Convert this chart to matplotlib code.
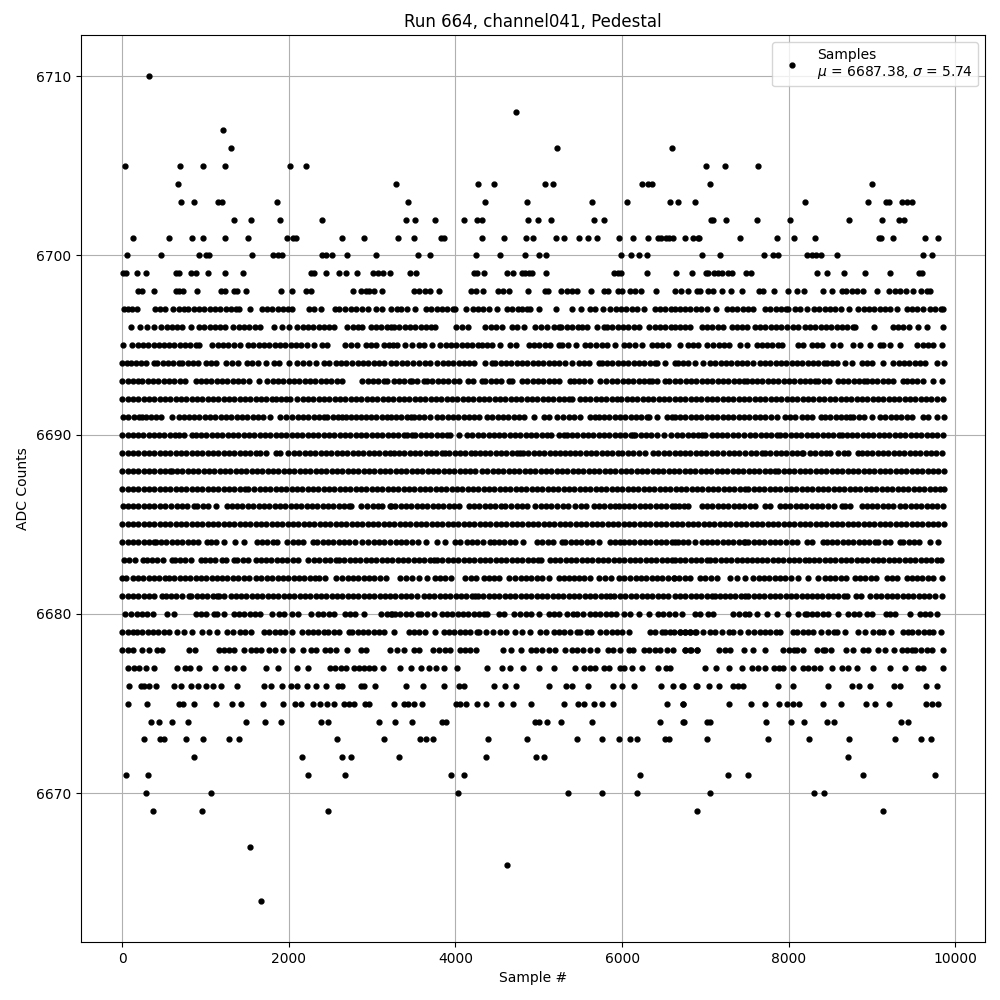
import matplotlib
matplotlib.use("Agg")
import matplotlib.pyplot as plt

s6710 = [322]
s6708 = [4723]
s6707 = [1210]
s6706 = [1306, 5215, 6595]
s6705 = [34, 694, 970, 1234, 2014, 2206, 7013, 7241, 7637]
s6704 = [670, 3286, 4267, 4459, 5071, 5167, 6235, 6307, 6359, 7061, 9005]
s6703 = [706, 862, 1150, 1198, 1858, 3427, 4351, 4855, 5635, 6055, 6571, 6667, 6871, 8201, 8957, 9169, 9201, 9365, 9417, 9477]
s6702 = [1342, 1546, 1894, 2398, 3403, 3511, 3751, 4099, 4255, 4319, 4867, 4987, 5143, 5659, 5779, 7073, 7097, 7253, 7625, 8021, 8729, 9125, 9329, 9389]
s6701 = [130, 562, 838, 970, 1234, 1510, 1978, 2054, 2086, 2638, 2902, 3310, 3499, 3823, 3863, 4315, 4579, 4843, 4927, 5203, 5299, 5479, 5587, 5695, 5959, 6127, 6307, 6427, 6467, 6523, 6563, 6607, 6751, 6847, 6907, 6929, 7421, 7865, 8069, 8321, 9089, 9113, 9257, 9641, 9797]
s6700 = [58, 466, 922, 1006, 1046, 1558, 1810, 1870, 1918, 2398, 2450, 2518, 2698, 3046, 3547, 3691, 4243, 4531, 4831, 4999, 5083, 5983, 6103, 6199, 6295, 6965, 7181, 7709, 7817, 7877, 8225, 8285, 8333, 8393, 8585, 9617, 9725]
s6699 = [10, 46, 178, 286, 646, 682, 826, 886, 1030, 1234, 1450, 2266, 2302, 2446, 2602, 2690, 2818, 3010, 3070, 3134, 3214, 3451, 3523, 4223, 4255, 4339, 4615, 4687, 4795, 4831, 4879, 4915, 5083, 5899, 5947, 5987, 6295, 6643, 6835, 7013, 7037, 7109, 7157, 7205, 7277, 7325, 7493, 7553, 8345, 8465, 8669, 8921, 9221, 9569, 9605]
s6698 = [190, 242, 382, 646, 682, 730, 898, 1186, 1234, 1342, 1378, 1486, 1906, 2038, 2206, 2266, 2770, 2866, 2926, 2962, 3022, 3118, 3499, 3559, 3631, 3691, 3799, 4183, 4243, 4327, 4507, 4567, 4639, 4867, 5071, 5107, 5263, 5335, 5395, 5455, 5623, 5779, 5827, 5947, 5995, 6091, 6151, 6223, 6403, 6631, 6703, 6797, 6895, 6937, 7037, 7097, 7197, 7313, 7445, 7649, 7697, 7829, 7997, 8105, 8189, 8417, 8525, 8645, 8693, 8765, 8825, 8897, 9065, 9209, 9277, 9341, 9413, 9497, 9593, 9665, 9701]
s6697 = [22, 70, 118, 182, 390, 454, 518, 614, 682, 742, 790, 862, 922, 986, 1050, 1114, 1178, 1242, 1306, 1370, 1402, 1534, 1674, 1738, 1802, 1866, 1930, 1994, 2042, 2242, 2306, 2382, 2554, 2602, 2674, 2750, 2810, 2882, 2946, 3042, 3122, 3222, 3300, 3352, 3424, 3512, 3648, 3712, 3776, 3840, 3904, 3968, 4000, 4124, 4208, 4272, 4336, 4400, 4496, 4620, 4684, 4748, 4800, 4860, 4900, 5004, 5204, 5396, 5504, 5612, 5680, 5768, 5860, 5924, 5988, 6052, 6116, 6180, 6260, 6392, 6456, 6520, 6584, 6640, 6700, 6750, 6817, 6889, 6953, 7017, 7133, 7257, 7321, 7385, 7449, 7513, 7577, 7717, 7781, 7845, 7909, 7973, 7997, 8077, 8141, 8225, 8305, 8369, 8433, 8497, 8561, 8625, 8725, 8837, 8901, 8965, 9029, 9093, 9157, 9221, 9297, 9417, 9481, 9545, 9617, 9697, 9761, 9825, 9855]
s6696 = [106, 214, 302, 382, 462, 542, 602, 662, 722, 822, 922, 986, 1050, 1114, 1178, 1230, 1334, 1398, 1462, 1526, 1590, 1654, 1822, 1922, 2006, 2102, 2166, 2230, 2294, 2358, 2422, 2486, 2542, 2702, 2766, 2830, 2882, 2982, 3046, 3110, 3174, 3222, 3260, 3320, 3400, 3460, 3520, 3584, 3648, 3712, 3760, 4008, 4080, 4152, 4360, 4424, 4488, 4560, 4680, 4740, 4820, 4960, 5024, 5100, 5180, 5240, 5272, 5340, 5400, 5472, 5520, 5580, 5700, 5780, 5820, 5884, 5948, 6012, 6076, 6140, 6200, 6320, 6392, 6456, 6520, 6584, 6640, 6700, 6760, 6817, 6957, 7021, 7085, 7149, 7213, 7317, 7377, 7441, 7505, 7597, 7657, 7721, 7785, 7849, 7913, 7977, 8049, 8113, 8197, 8257, 8321, 8385, 8449, 8513, 8577, 8641, 8705, 8769, 8797, 9029, 9249, 9317, 9377, 9449, 9557, 9657, 9849]
s6695 = [10, 122, 186, 250, 314, 378, 442, 502, 562, 626, 690, 754, 818, 882, 922, 1082, 1146, 1210, 1274, 1342, 1410, 1510, 1574, 1638, 1702, 1766, 1830, 1894, 1958, 2022, 2086, 2150, 2214, 2302, 2402, 2462, 2674, 2742, 2814, 2922, 2986, 3050, 3142, 3202, 3250, 3300, 3392, 3480, 3560, 3624, 3720, 3820, 3884, 3948, 4012, 4076, 4140, 4204, 4268, 4320, 4380, 4444, 4540, 4652, 4732, 4880, 4944, 5008, 5072, 5136, 5240, 5280, 5352, 5452, 5552, 5620, 5684, 5760, 5820, 5920, 6020, 6084, 6160, 6240, 6360, 6424, 6480, 6552, 6697, 6797, 6849, 6917, 7017, 7097, 7161, 7225, 7289, 7417, 7497, 7625, 7677, 7741, 7805, 7877, 7917, 8117, 8177, 8277, 8341, 8405, 8537, 8617, 8777, 8857, 8977, 9097, 9137, 9217, 9337, 9545, 9609, 9673, 9737, 9845]
s6694 = [2, 62, 102, 162, 226, 290, 382, 422, 486, 550, 614, 682, 722, 786, 850, 914, 1002, 1062, 1126, 1242, 1322, 1386, 1502, 1562, 1626, 1722, 1822, 1886, 2002, 2102, 2170, 2242, 2322, 2422, 2482, 2562, 2622, 2690, 2762, 2826, 2890, 2954, 3018, 3082, 3146, 3222, 3290, 3354, 3418, 3490, 3568, 3632, 3696, 3780, 3848, 3912, 3976, 4040, 4104, 4160, 4228, 4360, 4440, 4480, 4544, 4608, 4672, 4736, 4800, 4864, 4928, 4992, 5056, 5120, 5184, 5248, 5312, 5400, 5480, 5540, 5600, 5720, 5760, 5820, 5884, 5948, 6012, 6076, 6140, 6204, 6268, 6332, 6396, 6420, 6520, 6640, 6677, 6729, 6797, 6877, 6977, 7057, 7121, 7185, 7249, 7313, 7377, 7441, 7505, 7569, 7657, 7717, 7781, 7845, 7909, 7973, 8037, 8101, 8165, 8229, 8293, 8357, 8421, 8457, 8517, 8581, 8677, 8757, 8877, 8937, 9001, 9137, 9257, 9321, 9385, 9449, 9513, 9577, 9641, 9777, 9860]
s6693 = [2, 66, 130, 190, 242, 306, 370, 434, 498, 562, 626, 690, 754, 882, 942, 1006, 1070, 1134, 1198, 1262, 1326, 1390, 1454, 1522, 1642, 1742, 1806, 1870, 1934, 1998, 2062, 2126, 2190, 2254, 2318, 2382, 2446, 2510, 2582, 2642, 2882, 2946, 3010, 3074, 3138, 3182, 3260, 3324, 3388, 3460, 3480, 3544, 3620, 3660, 3724, 3788, 3852, 3916, 3980, 4040, 4148, 4208, 4320, 4360, 4424, 4488, 4552, 4640, 4680, 4800, 4864, 4928, 4990, 5052, 5120, 5184, 5248, 5380, 5420, 5484, 5548, 5612, 5740, 5812, 5880, 5944, 6008, 6072, 6136, 6200, 6264, 6320, 6360, 6424, 6520, 6560, 6640, 6700, 6764, 6828, 6892, 6956, 7020, 7084, 7148, 7212, 7276, 7340, 7404, 7468, 7500, 7557, 7621, 7685, 7749, 7813, 7877, 7941, 8005, 8069, 8133, 8197, 8261, 8320, 8357, 8421, 8485, 8597, 8649, 8717, 8781, 8845, 8900, 8937, 9001, 9065, 9129, 9193, 9257, 9377, 9417, 9481, 9545, 9609, 9737, 9837]
s6692 = [2, 66, 130, 194, 258, 322, 386, 450, 514, 578, 642, 706, 770, 834, 898, 962, 1026, 1090, 1154, 1218, 1282, 1346, 1410, 1474, 1538, 1602, 1666, 1730, 1794, 1850, 1902, 1966, 2020, 2102, 2166, 2230, 2294, 2358, 2422, 2486, 2550, 2614, 2678, 2742, 2806, 2870, 2934, 2998, 3062, 3126, 3190, 3254, 3318, 3382, 3446, 3510, 3574, 3638, 3702, 3766, 3830, 3894, 3958, 4022, 4086, 4150, 4214, 4278, 4342, 4406, 4470, 4534, 4598, 4662, 4726, 4790, 4854, 4918, 4982, 5046, 5110, 5174, 5238, 5302, 5366, 5396, 5490, 5554, 5618, 5682, 5746, 5810, 5874, 5938, 5990, 6054, 6118, 6182, 6246, 6310, 6374, 6438, 6502, 6566, 6630, 6694, 6758, 6822, 6886, 6950, 7014, 7078, 7142, 7206, 7270, 7334, 7398, 7462, 7526, 7590, 7654, 7718, 7782, 7846, 7910, 7974, 8038, 8102, 8166, 8230, 8294, 8358, 8422, 8490, 8560, 8624, 8688, 8752, 8816, 8880, 8944, 9008, 9072, 9136, 9200, 9264, 9328, 9392, 9456, 9520, 9584, 9648, 9712, 9776, 9850]
s6691 = [10, 74, 138, 202, 242, 282, 346, 410, 462, 602, 682, 742, 802, 862, 926, 990, 1054, 1118, 1182, 1246, 1310, 1374, 1438, 1502, 1566, 1630, 1690, 1774, 1890, 1962, 2042, 2106, 2170, 2234, 2298, 2362, 2422, 2462, 2526, 2590, 2640, 2682, 2746, 2810, 2870, 2922, 2986, 3050, 3114, 3178, 3222, 3286, 3350, 3414, 3470, 3500, 3564, 3628, 3690, 3780, 3844, 3908, 3972, 4036, 4100, 4164, 4228, 4280, 4380, 4444, 4508, 4572, 4636, 4700, 4764, 4828, 4948, 5060, 5124, 5220, 5288, 5360, 5424, 5500, 5620, 5680, 5720, 5784, 5848, 5912, 5976, 6040, 6104, 6168, 6232, 6296, 6320, 6420, 6540, 6600, 6640, 6697, 6761, 6825, 6889, 6953, 7017, 7081, 7145, 7209, 7273, 7337, 7401, 7465, 7529, 7593, 7657, 7721, 7785, 7857, 7957, 8021, 8077, 8157, 8221, 8285, 8385, 8437, 8501, 8565, 8629, 8693, 8737, 8777, 8841, 8905, 8997, 9097, 9161, 9225, 9289, 9353, 9417, 9481, 9617, 9677, 9777, 9860]
s6690 = [2, 66, 130, 194, 250, 322, 382, 442, 506, 570, 634, 682, 742, 842, 882, 946, 1010, 1074, 1138, 1202, 1266, 1330, 1394, 1458, 1522, 1586, 1650, 1714, 1778, 1842, 1906, 1970, 2034, 2098, 2162, 2226, 2290, 2354, 2418, 2482, 2546, 2610, 2674, 2738, 2802, 2866, 2930, 2994, 3058, 3122, 3186, 3250, 3314, 3378, 3420, 3480, 3520, 3584, 3648, 3712, 3776, 3840, 3904, 3940, 4040, 4140, 4204, 4268, 4332, 4400, 4460, 4524, 4588, 4652, 4716, 4780, 4844, 4908, 4972, 5036, 5100, 5150, 5240, 5300, 5340, 5400, 5464, 5528, 5592, 5656, 5720, 5784, 5848, 5912, 5976, 6040, 6104, 6130, 6160, 6224, 6288, 6352, 6416, 6500, 6590, 6660, 6724, 6788, 6852, 6917, 6957, 7000, 7080, 7137, 7201, 7265, 7329, 7393, 7460, 7537, 7601, 7665, 7729, 7793, 7857, 7897, 7961, 8025, 8089, 8153, 8217, 8281, 8345, 8409, 8473, 8537, 8601, 8637, 8697, 8761, 8825, 8889, 8953, 9017, 9081, 9145, 9209, 9273, 9337, 9401, 9465, 9529, 9593, 9657, 9721, 9785, 9850]
s6689 = [2, 66, 130, 194, 258, 322, 386, 450, 514, 578, 642, 706, 770, 834, 898, 962, 1026, 1090, 1154, 1218, 1282, 1346, 1410, 1474, 1538, 1602, 1650, 1730, 1842, 1900, 1990, 2062, 2126, 2190, 2254, 2318, 2382, 2446, 2510, 2574, 2638, 2702, 2766, 2830, 2894, 2958, 3022, 3086, 3150, 3214, 3260, 3324, 3388, 3452, 3520, 3580, 3644, 3708, 3772, 3836, 3880, 3920, 3990, 4054, 4118, 4182, 4240, 4290, 4354, 4418, 4482, 4546, 4610, 4674, 4738, 4780, 4810, 4874, 4938, 5002, 5066, 5130, 5194, 5258, 5310, 5370, 5434, 5498, 5562, 5626, 5690, 5754, 5818, 5882, 5946, 6000, 6070, 6134, 6198, 6280, 6370, 6434, 6498, 6562, 6630, 6690, 6754, 6818, 6882, 6946, 7010, 7074, 7137, 7217, 7281, 7345, 7409, 7473, 7553, 7610, 7677, 7717, 7781, 7845, 7909, 7973, 8037, 8101, 8165, 8177, 8257, 8321, 8385, 8449, 8497, 8597, 8665, 8717, 8837, 8877, 8941, 9005, 9069, 9133, 9197, 9261, 9325, 9389, 9453, 9517, 9581, 9645, 9709, 9773, 9845]
s6688 = [2, 66, 130, 194, 258, 322, 386, 450, 514, 578, 595, 660, 724, 788, 852, 916, 980, 1044, 1108, 1172, 1236, 1300, 1364, 1428, 1492, 1556, 1620, 1684, 1748, 1812, 1876, 1940, 2004, 2068, 2132, 2196, 2260, 2324, 2388, 2452, 2516, 2580, 2644, 2708, 2772, 2836, 2900, 2964, 3028, 3092, 3156, 3220, 3284, 3348, 3412, 3476, 3540, 3604, 3668, 3732, 3796, 3860, 3924, 3988, 4052, 4116, 4180, 4240, 4320, 4384, 4448, 4512, 4576, 4640, 4704, 4768, 4832, 4896, 4960, 5024, 5088, 5152, 5216, 5280, 5344, 5408, 5472, 5536, 5600, 5664, 5728, 5792, 5856, 5920, 5984, 6048, 6112, 6176, 6240, 6304, 6368, 6432, 6496, 6560, 6624, 6688, 6752, 6816, 6880, 6944, 7008, 7072, 7136, 7200, 7264, 7328, 7392, 7456, 7520, 7584, 7648, 7712, 7776, 7840, 7870, 7940, 8004, 8068, 8132, 8196, 8260, 8324, 8388, 8452, 8516, 8580, 8644, 8708, 8772, 8836, 8900, 8964, 9028, 9092, 9156, 9220, 9284, 9348, 9412, 9476, 9540, 9604, 9668, 9732, 9796, 9860]
s6687 = [2, 66, 130, 194, 258, 322, 386, 450, 514, 578, 642, 706, 770, 834, 898, 962, 1026, 1090, 1154, 1218, 1282, 1346, 1410, 1474, 1510, 1586, 1650, 1714, 1778, 1842, 1906, 1970, 2034, 2098, 2162, 2226, 2290, 2354, 2418, 2482, 2546, 2610, 2674, 2738, 2802, 2866, 2930, 2994, 3058, 3122, 3186, 3250, 3314, 3378, 3442, 3506, 3570, 3634, 3698, 3762, 3826, 3890, 3954, 4018, 4082, 4146, 4210, 4274, 4338, 4402, 4466, 4530, 4594, 4658, 4722, 4786, 4850, 4914, 4978, 5042, 5106, 5170, 5234, 5298, 5362, 5426, 5490, 5554, 5618, 5682, 5746, 5810, 5874, 5938, 6002, 6066, 6130, 6194, 6258, 6322, 6386, 6450, 6514, 6578, 6642, 6706, 6770, 6834, 6898, 6962, 7026, 7090, 7154, 7218, 7282, 7346, 7410, 7474, 7510, 7580, 7644, 7708, 7772, 7836, 7900, 7964, 8028, 8092, 8156, 8220, 8284, 8348, 8412, 8476, 8540, 8604, 8668, 8732, 8796, 8860, 8924, 8988, 9052, 9116, 9180, 9244, 9308, 9372, 9436, 9500, 9564, 9628, 9692, 9756, 9820, 9860]
s6686 = [10, 74, 130, 194, 258, 322, 386, 450, 514, 590, 654, 718, 782, 862, 902, 966, 1030, 1122, 1254, 1318, 1382, 1442, 1510, 1574, 1638, 1702, 1766, 1830, 1894, 1958, 2022, 2086, 2150, 2214, 2278, 2342, 2406, 2470, 2534, 2598, 2662, 2726, 2750, 2870, 2942, 3006, 3070, 3120, 3214, 3232, 3280, 3344, 3408, 3472, 3536, 3600, 3664, 3728, 3792, 3856, 3920, 3984, 4040, 4160, 4224, 4288, 4352, 4416, 4470, 4548, 4600, 4672, 4736, 4800, 4860, 4960, 5024, 5088, 5152, 5216, 5290, 5352, 5440, 5510, 5572, 5660, 5724, 5788, 5852, 5910, 5960, 6020, 6084, 6148, 6212, 6276, 6340, 6404, 6468, 6532, 6596, 6640, 6680, 6740, 6790, 6957, 7021, 7085, 7149, 7213, 7277, 7341, 7405, 7469, 7533, 7600, 7717, 7781, 7897, 7957, 8021, 8085, 8149, 8213, 8277, 8341, 8405, 8477, 8541, 8637, 8677, 8741, 8877, 8937, 9001, 9065, 9129, 9193, 9257, 9337, 9401, 9465, 9529, 9593, 9657, 9721, 9785, 9850]
s6685 = [2, 66, 130, 194, 258, 322, 386, 450, 514, 578, 642, 706, 770, 834, 898, 962, 1026, 1090, 1154, 1218, 1282, 1346, 1410, 1474, 1538, 1602, 1666, 1730, 1794, 1858, 1922, 1986, 2050, 2114, 2178, 2242, 2306, 2370, 2434, 2498, 2562, 2626, 2690, 2754, 2818, 2882, 2946, 3010, 3074, 3138, 3202, 3266, 3330, 3394, 3458, 3522, 3586, 3650, 3714, 3778, 3842, 3906, 3970, 4034, 4098, 4162, 4226, 4290, 4354, 4418, 4482, 4546, 4610, 4674, 4738, 4802, 4866, 4930, 4994, 5058, 5122, 5186, 5250, 5314, 5378, 5442, 5506, 5570, 5634, 5698, 5762, 5826, 5890, 5954, 6018, 6082, 6146, 6210, 6274, 6338, 6402, 6466, 6530, 6594, 6658, 6722, 6786, 6850, 6914, 6978, 7042, 7106, 7170, 7234, 7298, 7362, 7426, 7490, 7554, 7618, 7682, 7746, 7810, 7874, 7938, 8002, 8066, 8130, 8194, 8258, 8322, 8386, 8450, 8514, 8578, 8642, 8706, 8770, 8834, 8898, 8962, 9026, 9090, 9154, 9218, 9282, 9346, 9410, 9474, 9538, 9602, 9666, 9730, 9794, 9862]
s6684 = [2, 66, 130, 194, 258, 322, 382, 402, 466, 530, 594, 658, 722, 786, 854, 914, 1014, 1062, 1126, 1222, 1354, 1462, 1614, 1678, 1742, 1806, 1862, 1982, 2046, 2110, 2174, 2294, 2342, 2406, 2470, 2534, 2598, 2662, 2726, 2790, 2882, 2954, 3018, 3082, 3142, 3220, 3284, 3348, 3412, 3480, 3548, 3644, 3780, 3880, 4000, 4060, 4140, 4200, 4264, 4328, 4420, 4460, 4524, 4588, 4652, 4720, 4808, 4980, 5044, 5108, 5172, 5280, 5320, 5384, 5448, 5512, 5576, 5640, 5720, 5852, 5920, 5980, 6020, 6084, 6148, 6220, 6272, 6340, 6404, 6468, 6532, 6640, 6600, 6677, 6729, 6793, 6877, 6957, 7017, 7081, 7145, 7209, 7273, 7337, 7401, 7465, 7477, 7517, 7581, 7645, 7709, 7773, 7837, 7901, 7965, 8037, 8105, 8217, 8277, 8409, 8457, 8521, 8585, 8649, 8713, 8777, 8841, 8905, 8969, 9033, 9077, 9157, 9221, 9337, 9377, 9441, 9505, 9569, 9690, 9797]
s6683 = [22, 86, 150, 250, 294, 358, 422, 486, 602, 630, 694, 758, 822, 942, 990, 1054, 1118, 1200, 1242, 1342, 1382, 1446, 1510, 1602, 1662, 1726, 1790, 1854, 1918, 1982, 2046, 2110, 2230, 2302, 2366, 2430, 2494, 2562, 2602, 2666, 2730, 2794, 2858, 2922, 2986, 3050, 3114, 3178, 3242, 3306, 3370, 3434, 3498, 3562, 3626, 3690, 3740, 3780, 3844, 3908, 3972, 4036, 4100, 4164, 4228, 4292, 4356, 4420, 4484, 4548, 4612, 4676, 4740, 4804, 4868, 4932, 4996, 5030, 5130, 5194, 5258, 5322, 5386, 5450, 5514, 5578, 5642, 5706, 5770, 5834, 5898, 5962, 6026, 6090, 6154, 6218, 6282, 6346, 6410, 6474, 6538, 6600, 6637, 6697, 6761, 6825, 6889, 6953, 7020, 7057, 7121, 7185, 7249, 7313, 7377, 7441, 7505, 7560, 7617, 7681, 7745, 7809, 7873, 7937, 8001, 8065, 8129, 8193, 8240, 8305, 8369, 8433, 8497, 8561, 8625, 8689, 8753, 8817, 8881, 8945, 9009, 9073, 9137, 9201, 9265, 9329, 9393, 9457, 9521, 9585, 9649, 9713, 9777, 9830]
s6682 = [0, 50, 130, 190, 254, 318, 382, 446, 510, 562, 626, 690, 754, 818, 882, 946, 1010, 1074, 1138, 1202, 1262, 1330, 1394, 1458, 1522, 1610, 1670, 1740, 1802, 1866, 1930, 1994, 2058, 2122, 2186, 2250, 2314, 2362, 2430, 2570, 2642, 2706, 2770, 2834, 2898, 2962, 3026, 3090, 3162, 3340, 3404, 3480, 3560, 3660, 3760, 3820, 3880, 3948, 4120, 4184, 4248, 4340, 4400, 4464, 4528, 4640, 4720, 4784, 4848, 4912, 4976, 5040, 5120, 5240, 5300, 5360, 5420, 5484, 5548, 5612, 5720, 5800, 5864, 5960, 6020, 6100, 6164, 6228, 6292, 6356, 6420, 6484, 6550, 6620, 6625, 6689, 6753, 6820, 6937, 6997, 7065, 7137, 7297, 7377, 7481, 7577, 7641, 7705, 7769, 7833, 7897, 7961, 8025, 8117, 8237, 8357, 8437, 8497, 8561, 8625, 8689, 8797, 8857, 8921, 8985, 9049, 9177, 9237, 9301, 9417, 9477, 9541, 9605, 9669, 9733, 9837]
s6681 = [2, 66, 130, 194, 258, 322, 382, 482, 522, 586, 650, 714, 802, 830, 894, 958, 1022, 1086, 1142, 1162, 1226, 1302, 1362, 1426, 1490, 1554, 1618, 1682, 1746, 1810, 1874, 1938, 2002, 2066, 2130, 2194, 2258, 2322, 2386, 2450, 2514, 2578, 2642, 2706, 2770, 2834, 2898, 2962, 3026, 3090, 3154, 3218, 3280, 3344, 3408, 3472, 3540, 3620, 3684, 3748, 3812, 3876, 3940, 4004, 4068, 4132, 4196, 4240, 4270, 4334, 4398, 4462, 4526, 4590, 4654, 4718, 4782, 4846, 4910, 4974, 5038, 5102, 5166, 5230, 5294, 5358, 5422, 5486, 5550, 5614, 5678, 5742, 5806, 5850, 5900, 5980, 6040, 6104, 6168, 6240, 6300, 6364, 6428, 6492, 6556, 6640, 6697, 6761, 6825, 6889, 6953, 7017, 7081, 7110, 7177, 7241, 7297, 7361, 7425, 7470, 7517, 7581, 7645, 7709, 7773, 7837, 7901, 7965, 8029, 8093, 8157, 8217, 8277, 8341, 8405, 8469, 8533, 8597, 8661, 8700, 8809, 8873, 8980, 9049, 9113, 9177, 9241, 9305, 9369, 9433, 9497, 9561, 9625, 9689, 9753, 9845]
s6680 = [30, 110, 174, 238, 302, 366, 542, 622, 882, 946, 1010, 1102, 1142, 1222, 1342, 1402, 1466, 1530, 1594, 1658, 1802, 1882, 1946, 2042, 2110, 2262, 2350, 2414, 2478, 2542, 2670, 2734, 2798, 2902, 3110, 3222, 3180, 3240, 3280, 3340, 3404, 3468, 3548, 3592, 3660, 3740, 3840, 3900, 3964, 4028, 4092, 4156, 4220, 4284, 4348, 4380, 4520, 4584, 4700, 4780, 4844, 4908, 5000, 5120, 5184, 5248, 5340, 5408, 5460, 5528, 5610, 5674, 5738, 5802, 5866, 5930, 6020, 6100, 6208, 6320, 6432, 6496, 6560, 6640, 6717, 6877, 6941, 7037, 7097, 7337, 7401, 7477, 7529, 7625, 7737, 7857, 7997, 8117, 8197, 8217, 8281, 8345, 8409, 8473, 8597, 8717, 8781, 8845, 8937, 8997, 9169, 9217, 9277, 9457, 9577, 9637, 9697, 9777]
s6679 = [2, 66, 130, 182, 242, 306, 370, 434, 498, 562, 662, 742, 842, 962, 1042, 1142, 1254, 1330, 1414, 1470, 1546, 1702, 1766, 1830, 1894, 1958, 2042, 2162, 2226, 2290, 2350, 2422, 2470, 2542, 2606, 2722, 2762, 2826, 2890, 2954, 3018, 3082, 3146, 3262, 3439, 3503, 3567, 3631, 3759, 3859, 3923, 3987, 4051, 4115, 4179, 4259, 4279, 4371, 4451, 4531, 4611, 4719, 4799, 4899, 5019, 5083, 5179, 5243, 5307, 5371, 5459, 5499, 5579, 5627, 5739, 5803, 5879, 5939, 5999, 6079, 6331, 6399, 6479, 6519, 6571, 6619, 6691, 6759, 6819, 6891, 6697, 6757, 6817, 6877, 6977, 7057, 7121, 7197, 7289, 7337, 7417, 7517, 7581, 7657, 7717, 7781, 7845, 7897, 8057, 8097, 8177, 8237, 8297, 8393, 8477, 8541, 8577, 8677, 8837, 8917, 9017, 9081, 9137, 9225, 9377, 9437, 9477, 9557, 9621, 9685, 9737, 9829]
s6678 = [2, 66, 130, 242, 322, 422, 482, 802, 874, 1162, 1222, 1282, 1346, 1462, 1542, 1606, 1670, 1762, 1834, 1934, 2042, 2170, 2270, 2322, 2430, 2494, 2562, 2694, 2862, 2922, 3214, 3302, 3379, 3499, 3559, 3727, 3799, 3879, 3939, 4051, 4119, 4179, 4251, 4571, 4667, 4783, 4907, 4971, 5039, 5119, 5199, 5311, 5399, 5463, 5527, 5619, 5695, 5827, 5887, 5979, 6079, 6127, 6259, 6319, 6391, 6455, 6539, 6607, 6759, 6823, 6899, 6757, 6821, 6897, 7169, 7233, 7297, 7465, 7569, 7717, 7937, 8001, 8065, 8097, 8177, 8345, 8409, 8437, 8513, 8685, 8777, 8897, 8949, 9077, 9157, 9269, 9357, 9417, 9481, 9517, 9589, 9665, 9717, 9857]
s6677 = [70, 142, 202, 282, 382, 658, 754, 814, 922, 1114, 1258, 1342, 1450, 1730, 1870, 2098, 2230, 2494, 2558, 2622, 2682, 2782, 2842, 2902, 2962, 3022, 3130, 3330, 3463, 3583, 3679, 3763, 3859, 4015, 4375, 4555, 4651, 4807, 4999, 5183, 5439, 5539, 5619, 5679, 5779, 5839, 5971, 6019, 6119, 6235, 6427, 6523, 6571, 6997, 7133, 7289, 7445, 7565, 7637, 7721, 7829, 7881, 7937, 8057, 8177, 8237, 8309, 8381, 8525, 8645, 8717, 8817, 9017, 9217, 9397, 9557, 9617, 9857]
s6676 = [82, 222, 262, 322, 402, 622, 706, 822, 910, 1002, 1090, 1182, 1378, 1702, 1782, 1922, 2022, 2102, 2222, 2326, 2446, 2590, 2642, 2862, 2902, 3034, 3403, 3607, 3859, 4039, 4099, 4467, 4591, 4723, 5119, 5327, 5399, 5587, 5887, 5995, 6139, 6467, 6607, 6719, 6899, 6737, 6889, 7049, 7169, 7337, 7397, 7457, 7877, 8057, 8477, 8765, 8849, 8981, 9269, 9337, 9653, 9785]
s6675 = [70, 294, 682, 730, 862, 1122, 1318, 1426, 1690, 1930, 2074, 2146, 2290, 2374, 2458, 2542, 2662, 2722, 2782, 2914, 2962, 3262, 3379, 3427, 3499, 3595, 4007, 4059, 4123, 4255, 4363, 4543, 4687, 4903, 5299, 5467, 5539, 5659, 5755, 5887, 6535, 6727, 6729, 7289, 7553, 7721, 7889, 7985, 8057, 8129, 8417, 8633, 8933, 9041, 9209, 9653, 9725, 9797]
s6674 = [346, 442, 594, 790, 1486, 1714, 1906, 2386, 2470, 3082, 3274, 3475, 3835, 3887, 4951, 4999, 5095, 5263, 5635, 6451, 6739, 6737, 7025, 7061, 7733, 8029, 8189, 8465, 8545, 9353, 9437]
s6673 = [262, 454, 502, 766, 970, 1282, 1402, 2578, 3142, 3571, 3643, 3727, 4387, 4855, 5459, 5755, 5959, 6091, 6175, 6511, 6559, 7025, 7757, 8249, 8725, 9281, 9593, 9713]
s6672 = [862, 2158, 2638, 2746, 3322, 4363, 4963, 5059, 8717]
s6671 = [46, 310, 2230, 2674, 3943, 4099, 6211, 7277, 7517, 8897, 9761]
s6670 = [286, 1066, 4027, 5347, 5755, 6175, 7061, 8309, 8429]
s6669 = [370, 958, 2470, 6895, 9137]
s6667 = [1534]
s6666 = [4615]
s6664 = [1666]

levels = {6710: s6710, 6708: s6708, 6707: s6707, 6706: s6706, 6705: s6705, 6704: s6704,
          6703: s6703, 6702: s6702, 6701: s6701, 6700: s6700, 6699: s6699, 6698: s6698,
          6697: s6697, 6696: s6696, 6695: s6695, 6694: s6694, 6693: s6693, 6692: s6692,
          6691: s6691, 6690: s6690, 6689: s6689, 6688: s6688, 6687: s6687, 6686: s6686,
          6685: s6685, 6684: s6684, 6683: s6683, 6682: s6682, 6681: s6681, 6680: s6680,
          6679: s6679, 6678: s6678, 6677: s6677, 6676: s6676, 6675: s6675, 6674: s6674,
          6673: s6673, 6672: s6672, 6671: s6671, 6670: s6670, 6669: s6669, 6667: s6667,
          6666: s6666, 6664: s6664}

xs, ys = [], []
for adc, samples in levels.items():
    xs.extend(samples)
    ys.extend([adc] * len(samples))

fig, ax = plt.subplots(figsize=(10, 10), dpi=100)
ax.plot(xs, ys, "k.", markersize=7, label="Samples\n$\\mu$ = 6687.38, $\\sigma$ = 5.74")
ax.set_title("Run 664, channel041, Pedestal")
ax.set_xlabel("Sample #")
ax.set_ylabel("ADC Counts")
ax.grid(True)
ax.legend(loc="upper right")
fig.subplots_adjust(left=0.081, right=0.985, top=0.965, bottom=0.058)
fig.savefig("out.png", dpi=100)
